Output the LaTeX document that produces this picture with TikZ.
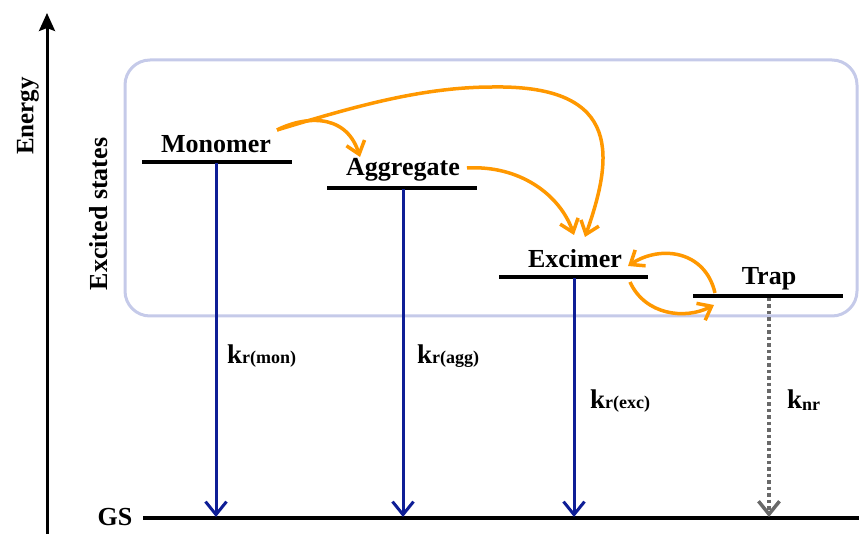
\documentclass[tikz,border=0pt]{standalone}
\usepackage{fontspec}
\setmainfont{Liberation Serif}
\usetikzlibrary{arrows.meta}
\definecolor{radblue}{RGB}{14,30,150}
\definecolor{flow}{RGB}{255,152,0}
\definecolor{framecol}{RGB}{197,202,233}
\definecolor{nrgray}{RGB}{105,105,105}
\begin{document}
\begin{tikzpicture}[x=1pt,y=-1pt,
  txt/.style={font=\fontsize{26}{30}\selectfont\bfseries, inner sep=0pt, anchor=base},
  klbl/.style={font=\fontsize{27}{30}\selectfont\bfseries, inner sep=0pt, anchor=base west},
  levelline/.style={line width=3.5pt},
  barb/.style={-{Straight Barb[length=13pt,width=21pt]}},
  radiative/.style={radblue, line width=3pt, barb},
  nonrad/.style={nrgray, line width=3.5pt, dash pattern=on 3.5pt off 3pt, barb},
  transfer/.style={flow, line width=3.5pt, -{Straight Barb[length=12pt,width=19pt]}},
]
\useasboundingbox (0,0) rectangle (859,534);

% excited-state frame
\draw[framecol, line width=3pt, rounded corners=25pt] (125,60) rectangle (857,316);

% energy axis
\coordinate (axbot) at (47,534);
\coordinate (axtop) at (47,13);
\draw[line width=3pt, -{Stealth[length=18pt,width=16pt,inset=3pt]}] (axbot) -- (axtop);
\node[rotate=90, font=\fontsize{25}{30}\selectfont\bfseries, inner sep=0pt] (energy) at (28,116) {Energy};
\node[rotate=90, font=\fontsize{26}{30}\selectfont\bfseries, inner sep=0pt] (exc) at (99,214) {Excited states};

% energy levels
\coordinate (monL) at (142,162);  \coordinate (monR) at (292,162);
\coordinate (aggL) at (327,188);  \coordinate (aggR) at (477,188);
\coordinate (excL) at (499,277);  \coordinate (excR) at (648,277);
\coordinate (trpL) at (693,296);  \coordinate (trpR) at (843,296);
\coordinate (gsL)  at (143,518);  \coordinate (gsR)  at (859,518);
\draw[levelline] (monL) -- (monR);
\draw[levelline] (aggL) -- (aggR);
\draw[levelline] (excL) -- (excR);
\draw[levelline] (trpL) -- (trpR);
\draw[levelline] (gsL) -- (gsR);

\node[txt] (monomer)   at (216,153) {Monomer};
\node[txt] (aggregate) at (403,176) {Aggregate};
\node[txt] (excimer)   at (575,268) {Excimer};
\node[txt] (trap)      at (769,285) {Trap};
\node[txt] (gs)        at (115,525) {GS};

% decay channels
\coordinate (monD) at (216,163);  \coordinate (monG) at (216,517);
\coordinate (aggD) at (403,189);  \coordinate (aggG) at (403,517);
\coordinate (excD) at (574,278);  \coordinate (excG) at (574,517);
\coordinate (trpD) at (769,298);  \coordinate (trpG) at (769,517);
\draw[radiative] (monD) -- (monG);
\draw[radiative] (aggD) -- (aggG);
\draw[radiative] (excD) -- (excG);
\draw[nonrad] (trpD) -- (trpG);

\node[klbl] (kmon) at (227,363) {k{\fontsize{18}{20}\selectfont r(mon)}};
\node[klbl] (kagg) at (417,363) {k{\fontsize{18}{20}\selectfont r(agg)}};
\node[klbl] (kexc) at (590,408) {k{\fontsize{18}{20}\selectfont r(exc)}};
\node[klbl] (knr)  at (787,408) {k{\fontsize{18}{20}\selectfont\raisebox{-2pt}{nr}}};

% energy transfer paths
\coordinate (monOut) at (277,130);
\coordinate (aggIn)  at (360,157);
\coordinate (top)    at (493,87);
\coordinate (excIn1) at (585,237);
\coordinate (aggOut) at (467,168);
\coordinate (excIn2) at (574,235);
\coordinate (excOut) at (630,282);
\coordinate (trpIn)  at (714,305);
\coordinate (trpOut) at (715,293);
\coordinate (excIn3) at (628,266);

\draw[transfer] (monOut) .. controls (300,118) and (345,110) .. (aggIn);
\draw[transfer] (monOut) .. controls (350,108) and (420,87) .. (top)
                         .. controls (625,85) and (612,160) .. (excIn1);
\draw[transfer] (aggOut) .. controls (520,165) and (560,195) .. (excIn2);
\draw[transfer] (excOut) .. controls (645,315) and (685,320) .. (trpIn);
\draw[transfer] (trpOut) .. controls (705,250) and (660,245) .. (excIn3);
\end{tikzpicture}
\end{document}
